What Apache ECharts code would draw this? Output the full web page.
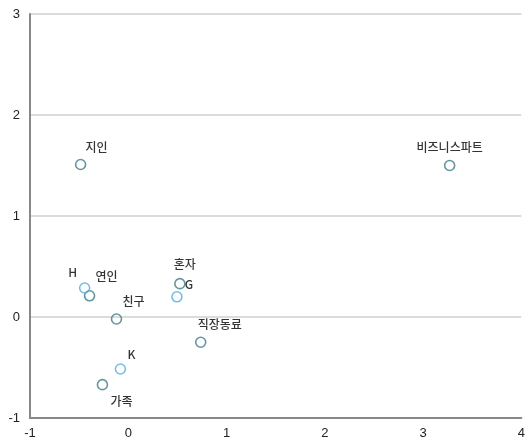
<!DOCTYPE html>
<html><head><meta charset="utf-8">
<script src="https://cdn.jsdelivr.net/npm/echarts@6/dist/echarts.min.js"></script>
<style>html,body{margin:0;padding:0;background:#fff}#c{width:528px;height:447px}</style>
</head><body><div id="c"></div>
<script>
const names = ['지인','비즈니스파트','H','연인','혼자','G','친구','직장동료','K','가족'];
const xVals = [-0.485, 3.27, -0.444, -0.394, 0.525, 0.495, -0.12, 0.737, -0.08, -0.263];
const yVals = [1.51, 1.50, 0.287, 0.21, 0.33, 0.20, -0.02, -0.25, -0.515, -0.67];
const groups = ['dark','dark','light','dark','dark','light','dark','dark','light','dark'];
const xTicks = [-1,0,1,2,3,4];
const yTicks = [-1,0,1,2,3];

// label layout (styling only)
const labelOffsets = {
  '지인':[16,-17],'비즈니스파트':[0,-18],'H':[-12,-16],'연인':[17,-19],'혼자':[5,-19],
  'G':[12,-12],'친구':[17,-18],'직장동료':[19,-18],'K':[11,-15],'가족':[19,17]
};
const colors = {dark:'#3d7c89', light:'#55acdc'};

function build(g){
  const d=[];
  names.forEach((n,i)=>{ if(groups[i]===g) d.push({value:[xVals[i],yVals[i]],name:n,
    label:{offset:labelOffsets[n]}}); });
  return d;
}
const chart = echarts.init(document.getElementById('c'));
const mkSeries = g => ({
  type:'scatter', data:build(g), symbol:'circle', symbolSize:10,
  itemStyle:{color:'rgba(255,255,255,0)', borderColor:colors[g], borderWidth:1.6},
  label:{show:true, position:'inside', formatter:p=>p.name, color:'#000',
    fontFamily:'Noto Sans CJK KR', fontSize:12, fontWeight:500},
  emphasis:{disabled:true}
});
chart.setOption({
  animation:false,
  grid:{left:30,right:3,top:14,bottom:29},
  xAxis:{type:'value',min:xTicks[0],max:xTicks[xTicks.length-1],interval:1,
    axisLine:{show:true,onZero:false,lineStyle:{color:'#888',width:2}},
    axisTick:{show:false}, splitLine:{show:false},
    axisLabel:{color:'#222',fontSize:13,fontFamily:'Liberation Sans',margin:9}},
  yAxis:{type:'value',min:yTicks[0],max:yTicks[yTicks.length-1],interval:1,
    axisLine:{show:true,onZero:false,lineStyle:{color:'#888',width:2}},
    axisTick:{show:false},
    splitLine:{show:true,lineStyle:{color:'#dcdcdc',width:2}},
    axisLabel:{color:'#222',fontSize:13,fontFamily:'Liberation Sans',margin:10}},
  series:[mkSeries('dark'),mkSeries('light')]
});
</script></body></html>
